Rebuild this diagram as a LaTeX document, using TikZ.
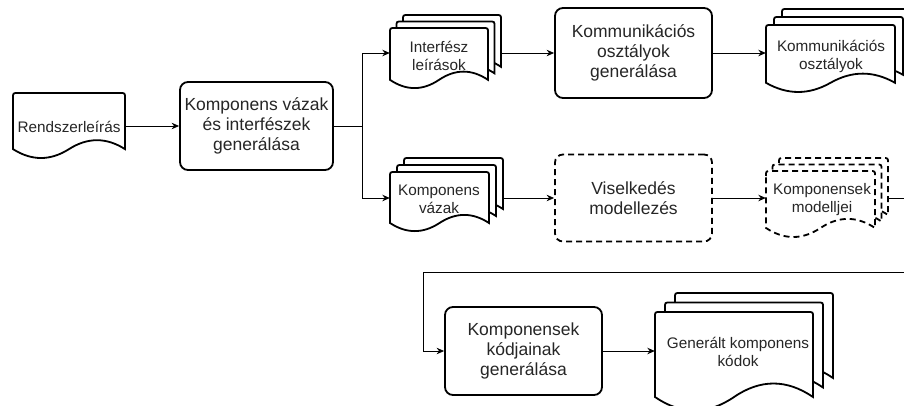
\documentclass[tikz,border=0pt]{standalone}
\usepackage{fontspec}
\setmainfont{Liberation Sans}
\usetikzlibrary{arrows.meta}
\definecolor{ink}{HTML}{262626}

% One sheet with rounded upper corners and a wavy lower edge.
% #1 options, #2 left, #3 top, #4 width, #5 height (y grows downwards)
\newcommand{\sheet}[5][]{%
  \draw[#1] (#2,#3+5) .. controls (#2,#3) .. (#2+5,#3)
    -- (#2+#4-5,#3) .. controls (#2+#4,#3) .. (#2+#4,#3+5)
    -- (#2+#4,#3+0.85*#5)
    .. controls (#2+5*#4/6,#3+0.67*#5) and (#2+2*#4/3,#3+0.67*#5) .. (#2+#4/2,#3+0.85*#5)
    .. controls (#2+#4/3,#3+1.03*#5) and (#2+#4/6,#3+1.03*#5) .. (#2,#3+0.85*#5)
    -- cycle;}

% Three stacked sheets, the front one at (#2,#3); #6/#7 shift of each sheet behind.
\newcommand{\sheets}[7][]{%
  \sheet[#1]{#2+2*#6}{#3-2*#7}{#4}{#5}%
  \sheet[#1]{#2+#6}{#3-#7}{#4}{#5}%
  \sheet[#1]{#2}{#3}{#4}{#5}}

\tikzset{
  proc/.style={draw=black, line width=1.8pt, rounded corners=8pt, fill=white,
    minimum width=157pt, minimum height=88pt, align=center, inner sep=0pt,
    font=\fontsize{17.5}{20}\selectfont, text=ink},
  sheetline/.style={draw=black, line width=1.8pt, fill=white},
  dashline/.style={dash pattern=on 6pt off 4pt},
  doctext/.style={align=center, inner sep=0pt,
    font=\fontsize{15.3}{18}\selectfont, text=ink},
  anchorbox/.style={draw=none, inner sep=0pt, minimum height=20pt},
  conn/.style={draw=black, line width=0.9pt},
  arr/.style={conn, -{Stealth[length=7.5pt,width=6.5pt]}},
}

\begin{document}
\begin{tikzpicture}[x=1pt,y=-1pt]
  \fill[white] (0,0) rectangle (904,405);
  \useasboundingbox (0,0) rectangle (904,405);
  \clip (0,0) rectangle (904,405);

  % documents
  \sheet[sheetline]{13}{93}{112}{66}
  \node[anchorbox, minimum width=112pt] (rend) at (69,126) {};
  \node[doctext] (rend-t) at (69,127) {Rendszerleírás};

  \sheets[sheetline]{390}{28}{98}{61}{6.5}{6.5}
  \node[anchorbox, minimum width=111pt] (int) at (445.5,53) {};
  \node[doctext] (int-t) at (439,56) {Interfész\\leírások};

  \sheets[sheetline]{766}{25}{129}{68}{8}{8}
  \node[anchorbox, minimum width=145pt] (kom) at (838.5,53) {};
  \node[doctext] (kom-t) at (831,56) {Kommunikációs\\osztályok};

  \sheets[sheetline]{390}{172}{99}{60}{7}{7}
  \node[anchorbox, minimum width=113pt] (vaz) at (446.5,198) {};
  \node[doctext] (vaz-t) at (439,199) {Komponens\\vázak};

  \sheets[sheetline, dashline]{766}{171}{109}{67}{6.5}{6.5}
  \node[anchorbox, minimum width=122pt] (mod) at (827,198) {};
  \node[doctext] (mod-t) at (822,200) {Komponensek\\modelljei};

  \sheets[sheetline]{655}{312}{158}{100}{10}{9.5}
  \node[anchorbox, minimum width=178pt] (gen) at (744,351) {};
  \node[doctext] (gen-t) at (738,352) {Generált komponens\\kódok};

  % processes
  \node[proc, minimum width=153pt] (sys) at (256.5,126) {Komponens vázak\\és interfészek\\generálása};
  \node[proc, minimum height=90pt] (kgen) at (633.5,53) {Kommunikációs\\osztályok\\generálása};
  \node[proc, dashline, minimum height=87pt] (vis) at (633.5,198) {Viselkedés\\modellezés};
  \node[proc] (kod) at (523.5,351) {Komponensek\\kódjainak\\generálása};

  % bend points
  \coordinate (branch) at (362,126);
  \coordinate (loopL) at (423,272);

  % connectors
  \draw[arr] (rend) -- (sys);
  \draw[arr] (sys.east) -- (branch) |- (int.west);
  \draw[arr] (branch) |- (vaz.west);
  \draw[arr] (int.east) -- (kgen.west);
  \draw[arr] (kgen.east) -- (kom.west);
  \draw[arr] (vaz.east) -- (vis.west);
  \draw[arr] (vis.east) -- (mod.west);
  \draw[arr] (mod.east) -- ++(27,0) |- (loopL) |- (kod.west);
  \draw[arr] (kod.east) -- (gen.west);
\end{tikzpicture}
\end{document}
